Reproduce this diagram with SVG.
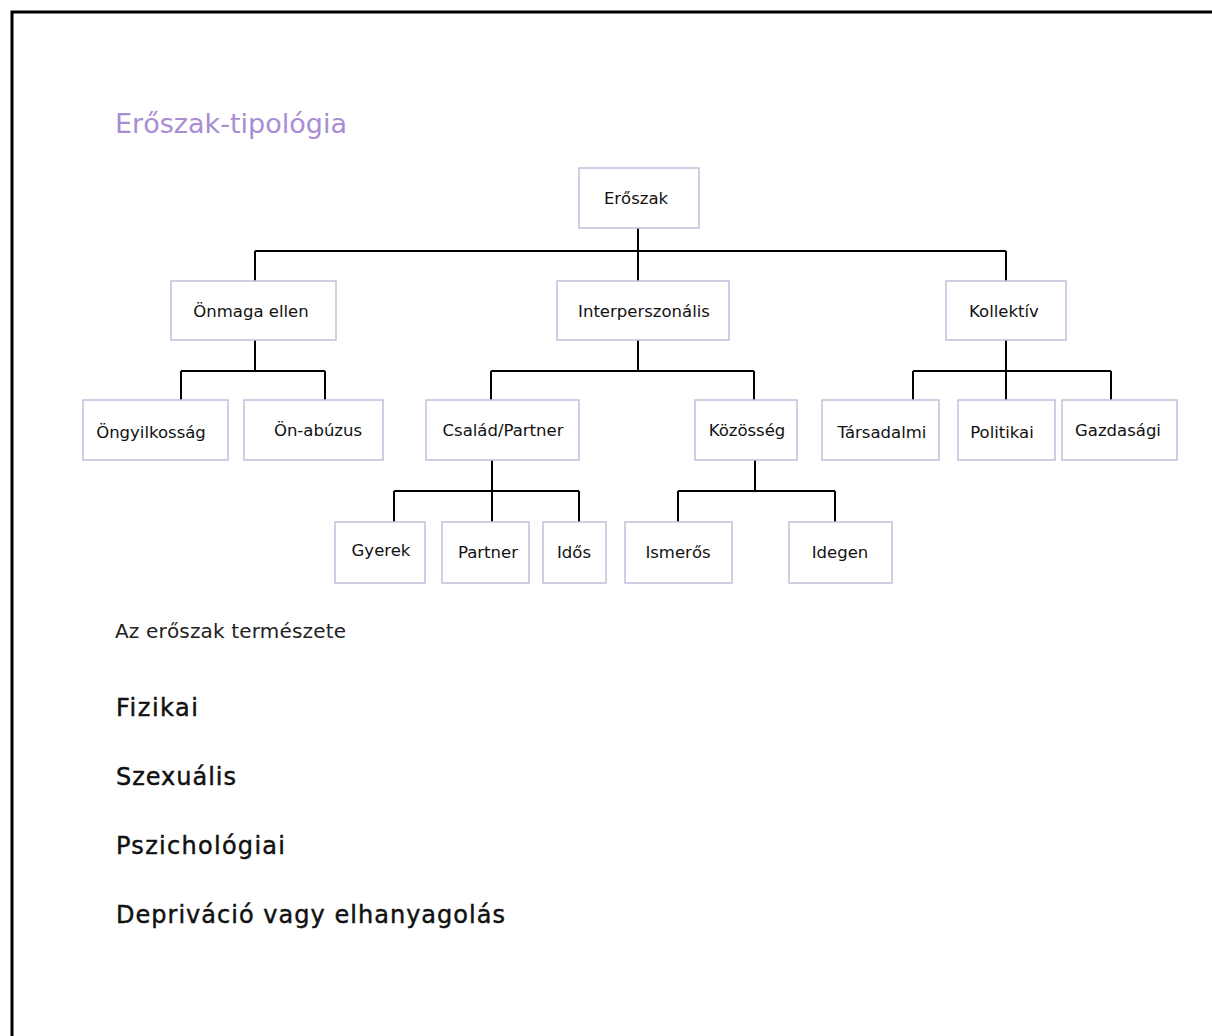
<svg xmlns="http://www.w3.org/2000/svg" width="1212" height="1036" viewBox="0 0 1212 1036">
<style>
.frame{fill:none;stroke:#000;stroke-width:3}
.box{fill:#fff;stroke:#c9bcdb;stroke-width:1.5}
.lbl{font-family:"DejaVu Sans","Liberation Sans",sans-serif;font-size:16.5px;fill:#111;text-anchor:middle}
.conn{fill:none;stroke:#000;stroke-width:2}
.title{font-family:"DejaVu Sans","Liberation Sans",sans-serif;font-size:27px;fill:#a98dd3}
.sub{font-family:"DejaVu Sans","Liberation Sans",sans-serif;font-size:20px;fill:#222}
.item{font-family:"DejaVu Sans","Liberation Sans",sans-serif;font-size:24px;fill:#111;stroke:#111;stroke-width:0.45}
</style>
<rect width="1212" height="1036" fill="#fff"/>
<path class="frame" d="M12,1036 V12 H1212"/>
<text class="title" x="115" y="133" textLength="232">Erőszak-tipológia</text>
<g id="connectors">
<path class="conn" d="M638,228 V281 M255,251 H1006 M255,251 V281 M1006,251 V281"/>
<path class="conn" d="M255,340 V371 M181,371 H325 M181,371 V400 M325,371 V400"/>
<path class="conn" d="M638,340 V371 M491,371 H754 M491,371 V400 M754,371 V400"/>
<path class="conn" d="M1006,340 V371 M913,371 H1111 M913,371 V400 M1006,371 V400 M1111,371 V400"/>
<path class="conn" d="M492,460 V491 M394,491 H579 M394,491 V522 M492,491 V522 M579,491 V522"/>
<path class="conn" d="M755,460 V491 M678,491 H835 M678,491 V522 M835,491 V522"/>
</g>
<g id="n-eroszak"><rect class="box" x="579" y="168" width="120" height="60"/><text class="lbl" x="636" y="204">Erőszak</text></g>
<g id="n-onmaga"><rect class="box" x="171" y="281" width="165" height="59"/><text class="lbl" x="251" y="317">Önmaga ellen</text></g>
<g id="n-interp"><rect class="box" x="557" y="281" width="172" height="59"/><text class="lbl" x="644" y="317">Interperszonális</text></g>
<g id="n-kollektiv"><rect class="box" x="946" y="281" width="120" height="59"/><text class="lbl" x="1004" y="317">Kollektív</text></g>
<g id="n-ongyilk"><rect class="box" x="83" y="400" width="145" height="60"/><text class="lbl" x="151" y="438">Öngyilkosság</text></g>
<g id="n-onabuzus"><rect class="box" x="244" y="400" width="139" height="60"/><text class="lbl" x="318" y="436">Ön-abúzus</text></g>
<g id="n-csalad"><rect class="box" x="426" y="400" width="153" height="60"/><text class="lbl" x="503" y="436">Család/Partner</text></g>
<g id="n-kozosseg"><rect class="box" x="695" y="400" width="102" height="60"/><text class="lbl" x="747" y="436">Közösség</text></g>
<g id="n-tarsadalmi"><rect class="box" x="822" y="400" width="117" height="60"/><text class="lbl" x="882" y="438">Társadalmi</text></g>
<g id="n-politikai"><rect class="box" x="958" y="400" width="97" height="60"/><text class="lbl" x="1002" y="438">Politikai</text></g>
<g id="n-gazdasagi"><rect class="box" x="1062" y="400" width="115" height="60"/><text class="lbl" x="1118" y="436">Gazdasági</text></g>
<g id="n-gyerek"><rect class="box" x="335" y="522" width="90" height="61"/><text class="lbl" x="381" y="556">Gyerek</text></g>
<g id="n-partner"><rect class="box" x="442" y="522" width="87" height="61"/><text class="lbl" x="488" y="558">Partner</text></g>
<g id="n-idos"><rect class="box" x="543" y="522" width="63" height="61"/><text class="lbl" x="574" y="558">Idős</text></g>
<g id="n-ismeros"><rect class="box" x="625" y="522" width="107" height="61"/><text class="lbl" x="678" y="558">Ismerős</text></g>
<g id="n-idegen"><rect class="box" x="789" y="522" width="103" height="61"/><text class="lbl" x="840" y="558">Idegen</text></g>
<text class="sub" x="115" y="638" textLength="231">Az erőszak természete</text>
<text class="item" x="116" y="716" textLength="82">Fizikai</text>
<text class="item" x="116" y="785" textLength="120">Szexuális</text>
<text class="item" x="116" y="854" textLength="169">Pszichológiai</text>
<text class="item" x="116" y="923" textLength="389">Depriváció vagy elhanyagolás</text>
</svg>
